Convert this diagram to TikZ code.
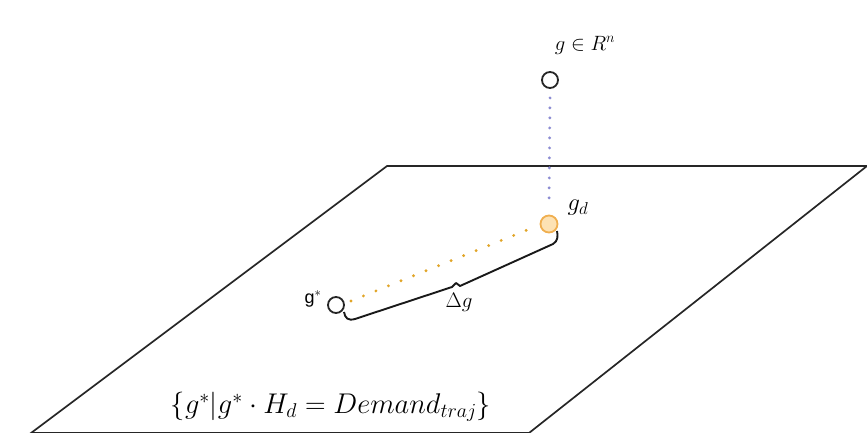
\RequirePackage{fix-cm}
\documentclass[tikz,border=0pt]{standalone}
\usepackage{fontspec}
\usetikzlibrary{calc}
\newfontfamily\labelsans{Liberation Sans}
\definecolor{dotblue}{RGB}{140,140,210}
\definecolor{dotorange}{RGB}{225,165,40}
\definecolor{gdfill}{RGB}{253,226,180}
\definecolor{gddraw}{RGB}{240,175,80}
\begin{document}
\begin{tikzpicture}[x=1pt,y=-1pt,
  plane/.style={draw=black!85,line width=1.7pt},
  pt/.style={circle,draw=black!85,line width=1.8pt,minimum size=16pt,inner sep=0pt,fill=white},
  ptd/.style={circle,draw=gddraw,line width=1.8pt,minimum size=17pt,inner sep=0pt,fill=gdfill},
  bluedots/.style={draw=dotblue,line width=3.2pt,line cap=round,dash pattern=on 0pt off 10pt},
  orangedots/.style={draw=dotorange,line width=3.2pt,line cap=round,dash pattern=on 0pt off 13.5pt},
  bracel/.style={draw=black!90,line width=1.9pt,line join=round},
  lab/.style={inner sep=0pt}]
\useasboundingbox (0,0) rectangle (867,433);
\begin{scope}
\clip (0,0) rectangle (867,433);
\draw[plane] (387,166) -- (867,166) -- (529,433) -- (31,433) -- cycle;
\end{scope}
\node[pt] (g) at (550,80) {};
\node[ptd] (gd) at (549,224) {};
\node[pt] (gs) at (336,305) {};
\node[lab,font=\fontsize{20.7}{22}\selectfont] (gl) at (585,45) {$g\in R^n$};
\node[lab,font=\fontsize{24.5}{26}\selectfont] (gdl) at (578,208) {$g_d$};
\node[lab,font=\labelsans\fontsize{18}{20}\selectfont] (gsl) at (313,299) {g$^{*}$};
\node[lab,font=\fontsize{21}{23}\selectfont] (dg) at (459,302) {$\Delta g$};
\node[lab,font=\fontsize{28.5}{31}\selectfont] (form) at (331,407) {$\{g^{*}|g^{*}\cdot H_d=Demand_{traj}\}$};
\draw[bluedots] ($(g.south)+(0,9)$) -- ($(gd.north)+(0,-9)$);
\draw[orangedots] ($(gs.east)+(6,-4)$) -- ($(gd.west)+(-5,3)$);
\coordinate (bl) at (344,312);
\coordinate (br) at (557,231);
\coordinate (bt) at (456,283);
\draw[bracel] (bl) .. controls (345,318) and (348,321) .. (355,319) -- (452,287) -- (bt) -- (460,286) -- (553,244) .. controls (558,241) and (558,236) .. (br);
\end{tikzpicture}
\end{document}
